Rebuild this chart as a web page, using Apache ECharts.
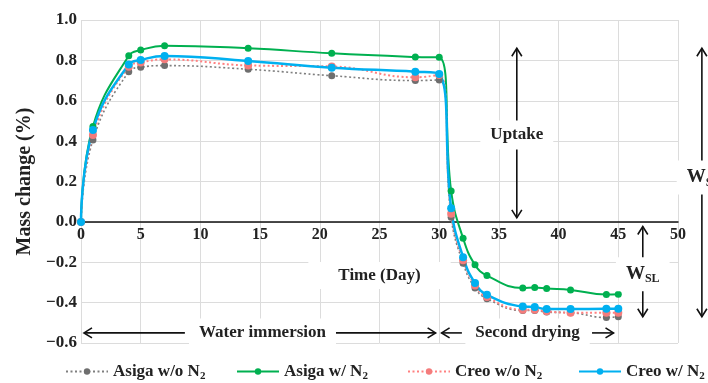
<!DOCTYPE html>
<html>
<head>
<meta charset="utf-8">
<script src="https://cdn.jsdelivr.net/npm/echarts@6/dist/echarts.min.js"></script>
<style>
  html, body { margin: 0; padding: 0; background: #fff; }
  #chart { width: 708px; height: 383px; }
</style>
</head>
<body>
<div id="chart"></div>
<script>
// days of measurement
const days = [0, 1, 4, 5, 7, 14, 21, 28, 30, 31, 32, 33, 34, 37, 38, 39, 41, 44, 45];
// mass change (%) per series
const asigaNoN2 = [0, 0.405, 0.744, 0.766, 0.774, 0.756, 0.724, 0.700, 0.703, 0.023, -0.205, -0.328, -0.381, -0.439, -0.439, -0.447, -0.450, -0.474, -0.470];
const asigaN2   = [0, 0.472, 0.823, 0.851, 0.873, 0.860, 0.835, 0.817, 0.815, 0.153, -0.081, -0.213, -0.266, -0.328, -0.325, -0.330, -0.337, -0.360, -0.358];
const creoNoN2  = [0, 0.430, 0.769, 0.789, 0.805, 0.775, 0.770, 0.716, 0.728, 0.040, -0.190, -0.315, -0.372, -0.435, -0.435, -0.443, -0.450, -0.450, -0.450];
const creoN2    = [0, 0.455, 0.780, 0.802, 0.822, 0.797, 0.764, 0.744, 0.733, 0.068, -0.175, -0.303, -0.361, -0.419, -0.422, -0.432, -0.432, -0.430, -0.430];
const seriesNames = ['Asiga w/o N', 'Asiga w/ N', 'Creo w/o N', 'Creo w/ N'];
const xTicks = [0, 50, 5];      // min, max, step
const yTicks = [-0.6, 1.0, 0.2];

const serif = '"Liberation Serif", "DejaVu Serif", serif';

var chartDom = document.getElementById('chart');
var myChart = echarts.init(chartDom);

function pairs(ys) {
    return days.map(function (d, i) { return [d, ys[i]]; });
}

function lineSeries(name, ys, color, symColor, width, type, size) {
    return {
        name: name,
        type: 'line',
        data: pairs(ys),
        smooth: 0.45,
        symbol: 'circle',
        symbolSize: size,
        showSymbol: true,
        lineStyle: {color: color, width: width, type: type},
        itemStyle: {color: symColor},
        emphasis: {disabled: true},
        z: 3
    };
}

var legendRich = {
    s: {fontFamily: serif, fontWeight: 'bold', fontSize: 11, color: '#222', padding: [9, 0, 0, 0]}
};
var legendLefts = [60, 231, 402, 573];
var legends = seriesNames.map(function (n, i) {
    return {
        data: [n],
        left: legendLefts[i],
        top: 358,
        itemWidth: 42,
        itemHeight: 8,
        itemGap: 0,
        formatter: function (name) { return name + '{s|2}'; },
        textStyle: {fontFamily: serif, fontWeight: 'bold', fontSize: 17, color: '#222', rich: legendRich}
    };
});

var option = {
    backgroundColor: '#fff',
    animation: false,
    grid: {left: 81, right: 30, top: 20, bottom: 40, outerBoundsMode: 'none'},
    legend: legends,
    xAxis: {
        type: 'value',
        min: xTicks[0], max: xTicks[1], interval: xTicks[2],
        name: 'Time (Day)',
        nameLocation: 'middle',
        nameGap: 40,
        nameTextStyle: {fontFamily: serif, fontWeight: 'bold', fontSize: 17, color: '#222',
            backgroundColor: '#fff', padding: [5, 30, 5, 30]},
        axisLine: {onZero: false, lineStyle: {color: '#111', width: 1.5}},
        axisTick: {show: false},
        axisLabel: {fontFamily: serif, fontWeight: 'bold', fontSize: 16, color: '#222', margin: 5},
        splitLine: {show: true, lineStyle: {color: '#dcdcdc', width: 1}}
    },
    yAxis: {
        type: 'value',
        min: yTicks[0], max: yTicks[1], interval: yTicks[2],
        name: 'Mass change (%)',
        nameLocation: 'middle',
        nameGap: 46,
        nameTextStyle: {fontFamily: serif, fontWeight: 'bold', fontSize: 20, color: '#222'},
        axisLine: {show: false},
        axisTick: {show: false},
        axisLabel: {
            fontFamily: serif, fontWeight: 'bold', fontSize: 17, color: '#222', margin: 4,
            formatter: function (v) { return v.toFixed(1).replace('-', '\u2212'); }
        },
        splitLine: {show: true, lineStyle: {color: '#dcdcdc', width: 1}}
    },
    series: [
        lineSeries(seriesNames[0], asigaNoN2, '#7f7f7f', '#6e6e6e', 1.6, [2, 2.5], 7),
        lineSeries(seriesNames[1], asigaN2, '#00b050', '#00b050', 2, 'solid', 7),
        lineSeries(seriesNames[2], creoNoN2, '#ff8080', '#f47c7c', 2, [2, 2.5], 8),
        lineSeries(seriesNames[3], creoN2, '#00b0f0', '#00b0f0', 2.5, 'solid', 8)
    ]
};
myChart.setOption(option);

function px(x, y) {
    return myChart.convertToPixel({gridIndex: 0}, [x, y]);
}

// move the x axis (line + labels + name) up to y = 0
var zeroY = px(0, 0)[1], bottomY = px(0, yTicks[0])[1];
myChart.setOption({xAxis: {offset: zeroY - bottomY}});

// annotations (data coordinates)
const arrows = [
    {x: 36.5, y1: 0.86, y2: 0.02},
    {x: 47.05, y1: -0.023, y2: -0.47},
    {x: 52, y1: 0.86, y2: -0.47}
];
const hArrows = [
    {y: -0.55, x1: 0.25, x2: 8.7, head: 'left'},
    {y: -0.55, x1: 21.3, x2: 29.7, head: 'right'},
    {y: -0.55, x1: 30.2, x2: 31.9, head: 'left'},
    {y: -0.55, x1: 42.8, x2: 44.6, head: 'right'}
];
const labels = [
    {x: 36.5, y: 0.43, text: 'Uptake'},
    {x: 15.2, y: -0.55, text: 'Water immersion'},
    {x: 37.4, y: -0.55, text: 'Second drying'},
    {x: 47.05, y: -0.26, text: '{w|W}{s|SL}'},
    {x: 52.0, y: 0.22, text: '{w|W}{s|SI}'}
];

function head(x, y, dir) {
    var s = 5, l = 8, pts;
    if (dir === 'up') pts = [[x - s, y + l], [x, y], [x + s, y + l]];
    if (dir === 'down') pts = [[x - s, y - l], [x, y], [x + s, y - l]];
    if (dir === 'left') pts = [[x + l, y - s], [x, y], [x + l, y + s]];
    if (dir === 'right') pts = [[x - l, y - s], [x, y], [x - l, y + s]];
    return {type: 'polyline', shape: {points: pts}, style: {stroke: '#111', lineWidth: 1.6, fill: null}, z: 10};
}

var g = [];
arrows.forEach(function (a) {
    var p1 = px(a.x, a.y1), p2 = px(a.x, a.y2);
    g.push({type: 'line', shape: {x1: p1[0], y1: p1[1], x2: p2[0], y2: p2[1]},
        style: {stroke: '#111', lineWidth: 1.6}, z: 10});
    g.push(head(p1[0], p1[1], 'up'));
    g.push(head(p2[0], p2[1], 'down'));
});
hArrows.forEach(function (a) {
    var p1 = px(a.x1, a.y), p2 = px(a.x2, a.y);
    g.push({type: 'line', shape: {x1: p1[0], y1: p1[1], x2: p2[0], y2: p2[1]},
        style: {stroke: '#111', lineWidth: 1.6}, z: 10});
    g.push(head(a.head === 'left' ? p1[0] : p2[0], p1[1], a.head));
});
labels.forEach(function (t) {
    var p = px(t.x, t.y);
    g.push({
        type: 'text', x: p[0], y: p[1], z: 12,
        style: {
            text: t.text, align: 'center', verticalAlign: 'middle',
            fontFamily: serif, fontWeight: 'bold', fontSize: 17, fill: '#222',
            backgroundColor: '#fff', padding: [6, 10, 6, 10],
            rich: {
                w: {fontFamily: serif, fontWeight: 'bold', fontSize: 19, fill: '#222'},
                s: {fontFamily: serif, fontWeight: 'bold', fontSize: 12, fill: '#222', padding: [10, 0, 0, 0]}
            }
        }
    });
});
myChart.setOption({graphic: g});
</script>
</body>
</html>
